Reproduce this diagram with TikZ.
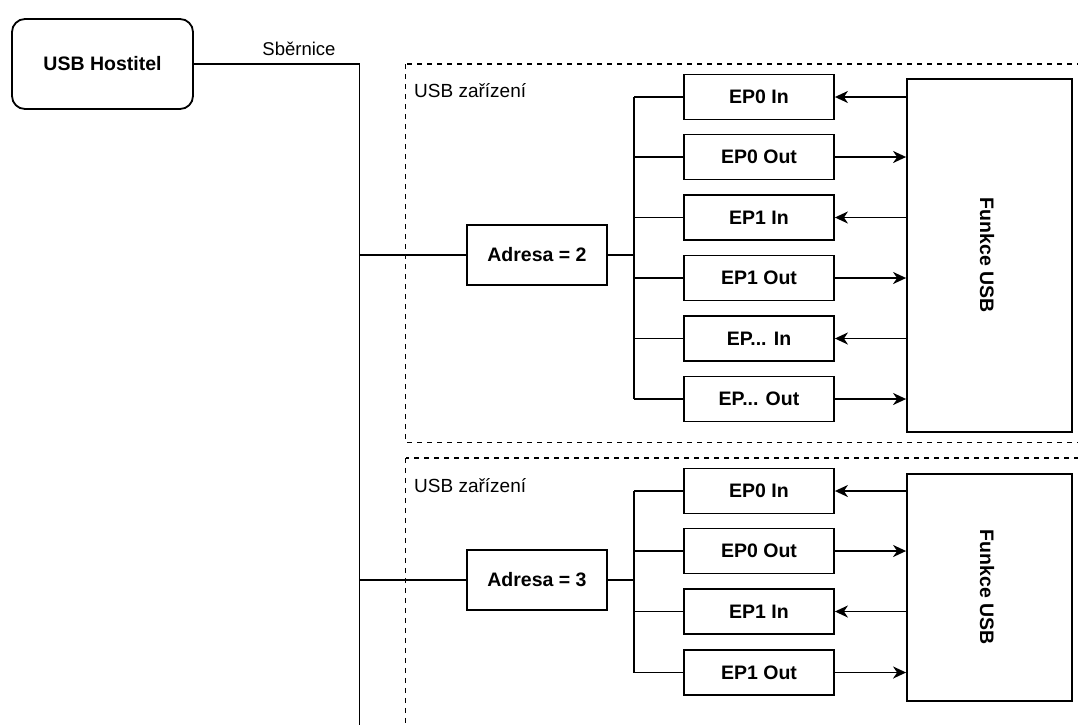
\documentclass[tikz,border=0pt]{standalone}
\usepackage{fontspec}
\setmainfont{Liberation Sans}
\usetikzlibrary{arrows.meta}
\tikzset{
  base/.style={line width=1.8pt, draw=black},
  bfont/.style={font=\fontsize{19.5}{23}\selectfont\bfseries},
  box/.style={base, bfont, rectangle, minimum width=150pt, minimum height=45pt, inner sep=0pt},
  hostbox/.style={base, bfont, rectangle, rounded corners=13pt, minimum width=181pt, minimum height=90pt, inner sep=0pt},
  addrbox/.style={base, bfont, rectangle, minimum width=140pt, minimum height=60pt, inner sep=0pt},
  funcbox/.style={base, rectangle, inner sep=0pt},
  wire/.style={line width=1.8pt},
  arr/.style={line width=1.8pt, -{Stealth[length=13pt,width=12pt,inset=4pt]}},
  devbox/.style={line width=1.6pt, dash pattern=on 5pt off 5pt},
  lbl/.style={font=\fontsize{19}{23}\selectfont, inner sep=0pt},
}
\begin{document}
\begin{tikzpicture}[x=1pt,y=-1pt]
\useasboundingbox (0,0) rectangle (1078,724);
\clip (0,0) rectangle (1078,724);

% host and bus
\node[hostbox] (host) at (102.5,64) {USB Hostitel};
\coordinate (busTop) at (359.5,64);
\coordinate (busBot) at (359.5,730);
\draw[wire] (host.east) -- (busTop) -- (busBot);
\node[lbl, font=\fontsize{18.5}{22}\selectfont] (bl) at (299,49) {Sběrnice};

% device boxes
\draw[devbox] (405.5,64) rectangle (1090,442.5);
\draw[devbox] (405.5,458) rectangle (1090,740);
\node[lbl, anchor=west] (d1) at (414,91) {USB zařízení};
\node[lbl, anchor=west] (d2) at (414,486) {USB zařízení};

% ---------- device 1 ----------
\node[addrbox] (a2) at (537,255) {Adresa = 2};
\draw[wire] (a2.west -| busTop) -- (a2.west);
\coordinate (t1) at (634,0);

\node[box] (e10) at (759,97) {EP0 In};
\node[box] (e11) at (759,157) {EP0 Out};
\node[box] (e12) at (759,217.5) {EP1 In};
\node[box] (e13) at (759,278) {EP1 Out};
\node[box] (e14) at (759,338.5) {EP... In};
\node[box] (e15) at (759,399) {EP... Out};

\node[funcbox, minimum width=165pt, minimum height=353pt] (f1) at (989.5,255.5) {};
\node[lbl, bfont, rotate=-90] (f1t) at (987,255) {Funkce USB};

\draw[wire] (a2.east) -- (a2.east -| t1);
\draw[wire] (e10.west -| t1) -- (e15.west -| t1);
\foreach \e in {e10,e11,e12,e13,e14,e15} {
  \draw[wire] (\e.west -| t1) -- (\e.west);
}
\foreach \e in {e10,e12,e14} {
  \draw[arr] (f1.west |- \e.east) -- (\e.east);
}
\foreach \e in {e11,e13,e15} {
  \draw[arr] (\e.east) -- (f1.west |- \e.east);
}

% ---------- device 2 ----------
\node[addrbox] (a3) at (537,580) {Adresa = 3};
\draw[wire] (a3.west -| busTop) -- (a3.west);

\node[box] (e20) at (759,491) {EP0 In};
\node[box] (e21) at (759,551) {EP0 Out};
\node[box] (e22) at (759,611.5) {EP1 In};
\node[box] (e23) at (759,672.5) {EP1 Out};

\node[funcbox, minimum width=165pt, minimum height=227pt] (f2) at (989.5,587.5) {};
\node[lbl, bfont, rotate=-90] (f2t) at (987,587) {Funkce USB};

\draw[wire] (a3.east) -- (a3.east -| t1);
\draw[wire] (e20.west -| t1) -- (e23.west -| t1);
\foreach \e in {e20,e21,e22,e23} {
  \draw[wire] (\e.west -| t1) -- (\e.west);
}
\foreach \e in {e20,e22} {
  \draw[arr] (f2.west |- \e.east) -- (\e.east);
}
\foreach \e in {e21,e23} {
  \draw[arr] (\e.east) -- (f2.west |- \e.east);
}
\end{tikzpicture}
\end{document}
